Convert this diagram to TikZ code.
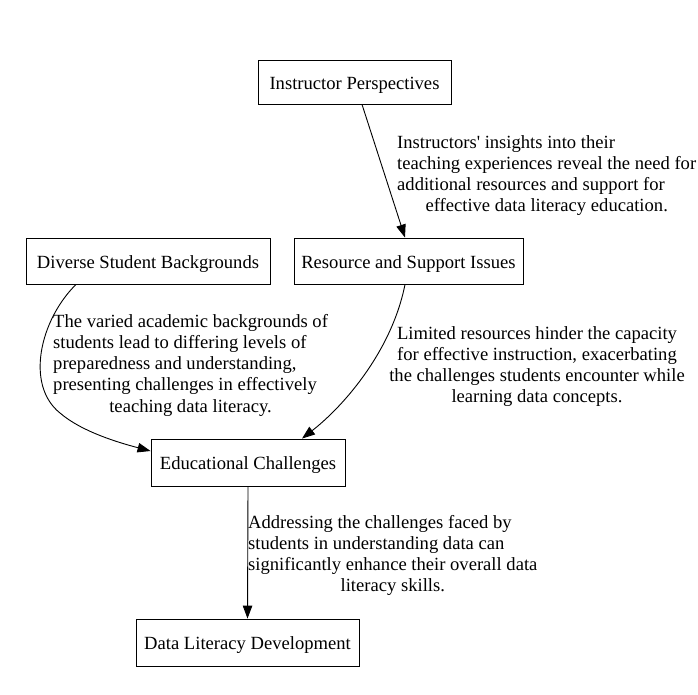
\documentclass[tikz,border=0pt]{standalone}
\usepackage{fontspec}
\setmainfont{Liberation Serif}
\usetikzlibrary{arrows.meta}
\newcommand{\lbltext}[2][l]{\fontsize{18.6pt}{21.3pt}\selectfont\begin{tabular}[t]{@{}#1@{}}#2\end{tabular}}
\newcommand{\lastline}[1]{\multicolumn{1}{@{}c@{}}{#1}}
\begin{document}
\begin{tikzpicture}[x=1pt,y=-1pt,
  nodebox/.style={draw=black,line width=0.9pt,inner sep=0pt,text height=14pt,text depth=0pt,font=\fontsize{18.6pt}{21pt}\selectfont},
  edgelab/.style={anchor=base west,inner sep=0pt},
  arr/.style={line width=0.9pt,-{Triangle[length=13pt,width=9.5pt]}}]
\useasboundingbox (0,0) rectangle (698,694);
\node[nodebox,minimum width=193pt,minimum height=44pt] (ip) at (354.5,82) {Instructor Perspectives};
\node[nodebox,minimum width=244pt,minimum height=46pt] (dsb) at (148,261) {Diverse Student Backgrounds};
\node[nodebox,minimum width=229pt,minimum height=46pt] (rsi) at (408.5,261) {Resource and Support Issues};
\node[nodebox,minimum width=194pt,minimum height=47pt] (ec) at (248,462.5) {Educational Challenges};
\node[nodebox,minimum width=223pt,minimum height=47pt] (dld) at (247.5,642.5) {Data Literacy Development};

\draw[arr] ([xshift=7.5pt]ip.south) -- ([xshift=-3.5pt]rsi.north);
\draw[arr] ([xshift=-72pt]dsb.south) .. controls (40,320) and (25,385) .. (60,413)
  .. controls (82,432) and (120,443) .. ([yshift=11.5pt]ec.west);
\draw[arr] ([xshift=-3.5pt]rsi.south) .. controls (392,350) and (345,405) .. ([xshift=54pt]ec.north);
\draw[arr] (ec.south) -- (dld.north);

\node[edgelab] (l1) at (397,148) {\lbltext{Instructors\textquotesingle{} insights into their\\teaching experiences reveal the need for\\additional resources and support for\\\lastline{effective data literacy education.}}};
\node[edgelab] (l2) at (53,327) {\lbltext{The varied academic backgrounds of\\students lead to differing levels of\\preparedness and understanding,\\presenting challenges in effectively\\\lastline{teaching data literacy.}}};
\node[anchor=base,inner sep=0pt] (l3) at (537,339) {\lbltext[c]{Limited resources hinder the capacity\\for effective instruction, exacerbating\\the challenges students encounter while\\learning data concepts.}};
\node[edgelab] (l4) at (248,528) {\lbltext{Addressing the challenges faced by\\students in understanding data can\\significantly enhance their overall data\\\lastline{literacy skills.}}};
\end{tikzpicture}
\end{document}
